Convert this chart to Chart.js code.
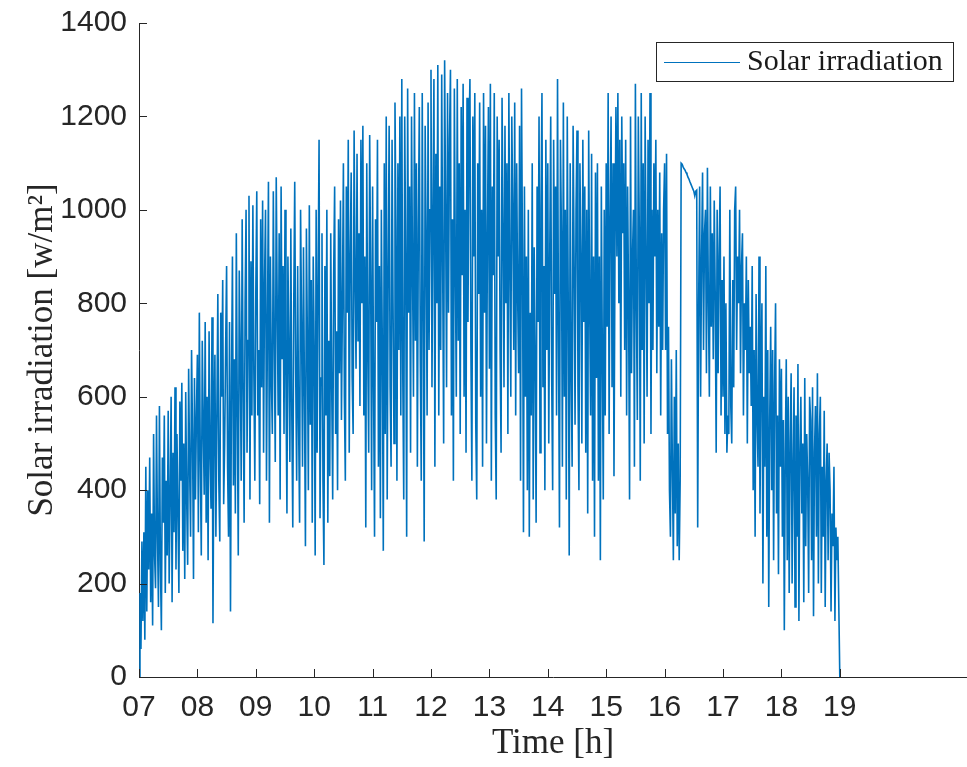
<!DOCTYPE html>
<html>
<head>
<meta charset="utf-8">
<title>Solar irradiation</title>
<script src="https://cdn.jsdelivr.net/npm/chart.js@4/dist/chart.umd.min.js"></script>
<style>
  html, body { margin: 0; padding: 0; background: #ffffff; }
  #wrap { width: 967px; height: 767px; }
</style>
</head>
<body>
<div id="wrap"><canvas id="irrChart" width="967" height="767"></canvas></div>
<script>
// Solar irradiation [w/m2], one value per minute
const irr07 = [
  0, 180, 60, 290, 120, 310, 80, 450, 140, 400,
  230, 470, 160, 350, 110, 520, 260, 190, 560, 300,
  150, 580, 240, 100, 470, 330, 560, 180, 420, 260,
  570, 200, 390, 600, 160, 480, 310, 620, 230, 520,
  350, 180, 590, 420, 630, 270, 500, 210, 610, 380,
  240, 660, 450, 300, 700, 520, 210, 640, 380, 560
];
const irr08 = [
  690, 310, 780, 460, 260, 720, 540, 390, 760, 330,
  600, 250, 740, 480, 360, 770, 115, 520, 690, 300,
  560, 820, 420, 290, 780, 600, 850, 370, 500, 700,
  880, 450, 300, 760, 140, 620, 900, 410, 680, 350,
  950, 560, 260, 870, 700, 420, 980, 620, 330, 800,
  1000, 480, 720, 1030, 380, 890, 560, 1010, 650, 420
];
const irr09 = [
  820, 1040, 560, 700, 370, 980, 620, 1020, 480, 850,
  1000, 420, 760, 1060, 330, 900, 640, 520, 1040, 720,
  460, 1070, 800, 560, 950, 380, 1050, 680, 880, 520,
  1000, 620, 350, 900, 700, 460, 960, 560, 320, 800,
  1060, 650, 420, 880, 540, 330, 1000, 760, 450, 920,
  600, 280, 960, 720, 400, 1010, 540, 850, 330, 900
];
const irr10 = [
  700, 260, 1000, 480, 850, 1150, 340, 640, 950, 420,
  240, 880, 560, 1000, 330, 720, 430, 950, 620, 380,
  860, 1050, 520, 740, 400, 980, 650, 1020, 550, 800,
  1100, 600, 420, 1050, 780, 1150, 480, 900, 1080, 640,
  520, 1170, 850, 660, 1120, 720, 950, 580, 1150, 800,
  1180, 560, 900, 320, 1100, 700, 480, 1160, 860, 400
];
const irr11 = [
  1050, 620, 300, 980, 760, 1150, 450, 880, 340, 1000,
  700, 270, 1100, 520, 1200, 380, 860, 1180, 620, 450,
  1150, 800, 500, 1230, 960, 420, 1100, 700, 1200, 560,
  1280, 650, 380, 1200, 900, 300, 1260, 780, 1050, 480,
  1200, 880, 600, 1250, 720, 1100, 450, 960, 1220, 680,
  420, 1250, 800, 290, 1180, 940, 560, 1230, 700, 1000
];
const irr12 = [
  1300, 620, 980, 1280, 450, 1120, 800, 1310, 560, 1050,
  700, 1290, 880, 500, 1320, 1000, 620, 1250, 780, 1150,
  1300, 560, 980, 420, 1260, 880, 600, 1280, 720, 1100,
  520, 1220, 860, 1270, 600, 1000, 480, 1240, 760, 1150,
  1280, 700, 420, 1200, 900, 1250, 540, 380, 1100, 820,
  1230, 600, 1000, 450, 1250, 780, 1180, 500, 950, 1220
];
const irr13 = [
  660, 1270, 420, 1050, 860, 1250, 560, 380, 1200, 900,
  1150, 700, 480, 1240, 960, 620, 1180, 800, 1100, 520,
  1250, 880, 600, 1200, 1000, 700, 1230, 560, 1100, 820,
  650, 1180, 420, 1260, 900, 310, 1050, 600, 900, 400,
  1000, 300, 780, 560, 1100, 380, 920, 680, 330, 1050,
  760, 1200, 480, 1000, 1250, 620, 880, 400, 1150, 700
];
const irr14 = [
  1100, 500, 900, 1200, 640, 400, 1150, 820, 1050, 560,
  1280, 720, 320, 1150, 950, 450, 1230, 600, 1000, 380,
  1200, 800, 260, 1100, 650, 450, 1180, 900, 540, 1000,
  1170, 620, 400, 1100, 900, 500, 1150, 760, 1050, 480,
  1000, 350, 1170, 800, 560, 1120, 420, 900, 300, 1080,
  640, 1100, 420, 900, 250, 1050, 700, 380, 1000, 560
];
const irr15 = [
  1100, 750, 1250, 520, 980, 1200, 620, 1100, 430, 900,
  1220, 900, 1250, 800, 1150, 600, 1200, 950, 1100, 700,
  1150, 560, 1050, 800, 380, 1200, 650, 900, 1000, 450,
  1270, 800, 550, 1200, 960, 420, 1250, 700, 1100, 500,
  1200, 900, 600, 1150, 800, 1250, 520, 1000, 700, 1100,
  900, 1150, 650, 1000, 750, 1080, 560, 950, 700, 1000
];
const irr16 = [
  1100, 700, 1120, 520, 750, 400, 300, 680, 450, 250,
  600, 350, 700, 280, 500, 250, 420, 1100, 1098, 1092,
  1088, 1085, 1080, 1076, 1070, 1066, 1060, 1055, 1050, 1045,
  1040, 1030, 1040, 1042, 320, 800, 1050, 600, 900, 1080,
  700, 950, 1000, 650, 1090, 800, 600, 1050, 750, 950,
  680, 1020, 820, 480, 1000, 650, 900, 1050, 560, 850
];
const irr17 = [
  600, 900, 520, 800, 480, 560, 520, 1000, 580, 500,
  850, 620, 1000, 1050, 700, 900, 800, 1000, 650, 880,
  950, 560, 800, 700, 900, 500, 850, 650, 750, 580,
  880, 400, 700, 300, 820, 550, 450, 900, 350, 650,
  800, 200, 600, 450, 880, 300, 700, 150, 550, 750,
  400, 700, 250, 620, 800, 350, 560, 220, 680, 450
];
const irr18 = [
  660, 300, 550, 100, 480, 680, 250, 600, 180, 500,
  650, 200, 450, 620, 150, 560, 300, 670, 120, 480,
  600, 350, 500, 160, 640, 280, 520, 420, 180, 600,
  550, 250, 620, 130, 480, 580, 300, 650, 200, 520,
  600, 180, 450, 300, 570, 150, 420, 500, 250, 480,
  400, 140, 350, 280, 450, 120, 320, 250, 300, 150
];
const irr19 = [0];

const hourTicks = [7, 8, 9, 10, 11, 12, 13, 14, 15, 16, 17, 18, 19];
const yTicks = [0, 200, 400, 600, 800, 1000, 1200, 1400];
const seriesLabel = "Solar irradiation";

// Build points: minute i after 07:00
const irradiation = [].concat(irr07, irr08, irr09, irr10, irr11, irr12,
  irr13, irr14, irr15, irr16, irr17, irr18, irr19);
const points = irradiation.map((v, i) => ({ x: 7 + i / 60, y: v }));

const axisColor = "#262626";
const lineBlue = "#0072BD";

// Inward tick marks + boxed legend (MATLAB look)
const matlabLook = {
  id: "matlabLook",
  afterDatasetsDraw(chart) {
    const { ctx, chartArea } = chart;
    const xs = chart.scales.x;
    const ys = chart.scales.y;
    ctx.save();
    ctx.strokeStyle = axisColor;
    ctx.lineWidth = 1;
    ctx.beginPath();
    ys.ticks.forEach(t => {
      const py = Math.round(ys.getPixelForValue(t.value)) + 0.5;
      ctx.moveTo(chartArea.left, py);
      ctx.lineTo(chartArea.left + 8, py);
    });
    xs.ticks.forEach(t => {
      const px = Math.round(xs.getPixelForValue(t.value)) + 0.5;
      ctx.moveTo(px, chartArea.bottom);
      ctx.lineTo(px, chartArea.bottom - 8);
    });
    ctx.stroke();

    // legend box
    const ds = chart.data.datasets[0];
    ctx.fillStyle = "#ffffff";
    ctx.fillRect(656.5, 42.5, 297, 39);
    ctx.strokeStyle = axisColor;
    ctx.strokeRect(656.5, 42.5, 297, 39);
    ctx.strokeStyle = ds.borderColor;
    ctx.lineWidth = 1.2;
    ctx.beginPath();
    ctx.moveTo(664, 62.5);
    ctx.lineTo(740, 62.5);
    ctx.stroke();
    ctx.fillStyle = "#1a1a1a";
    ctx.font = '30px "Liberation Serif", serif';
    ctx.textBaseline = "middle";
    ctx.textAlign = "left";
    ctx.fillText(ds.label, 747, 62);
    ctx.restore();
  }
};

const irrChart = new Chart(document.getElementById("irrChart"), {
  type: "line",
  data: {
    datasets: [
      {
        label: seriesLabel,
        data: points,
        borderColor: lineBlue,
        borderWidth: 1.6,
        pointRadius: 0,
        tension: 0,
        fill: false
      }
    ]
  },
  options: {
    responsive: false,
    animation: false,
    devicePixelRatio: 1,
    layout: { padding: { top: 23, right: 0, bottom: 0, left: 0 } },
    plugins: {
      legend: { display: false },
      tooltip: { enabled: false }
    },
    scales: {
      x: {
        type: "linear",
        min: 7,
        max: 7 + 828 / 58.4,
        afterBuildTicks: s => { s.ticks = hourTicks.map(v => ({ value: v })); },
        afterFit: s => { s.height = 90; s.paddingLeft = 0; s.paddingRight = 0; },
        grid: { display: false, drawTicks: false },
        border: { display: true, color: axisColor, width: 1 },
        ticks: {
          padding: 13,
          color: axisColor,
          autoSkip: false,
          maxRotation: 0,
          font: { family: '"Liberation Sans", Arial, sans-serif', size: 30 },
          callback: v => String(v).padStart(2, "0")
        },
        title: {
          display: true,
          text: "Time [h]",
          color: axisColor,
          font: { family: '"Liberation Serif", serif', size: 35 },
          padding: { top: 0, bottom: 2 }
        }
      },
      y: {
        min: 0,
        max: 1400,
        afterBuildTicks: s => { s.ticks = yTicks.map(v => ({ value: v })); },
        afterFit: s => { s.width = 139; s.paddingTop = 0; s.paddingBottom = 0; },
        grid: { display: false, drawTicks: false },
        border: { display: true, color: axisColor, width: 1 },
        ticks: {
          padding: 12,
          color: axisColor,
          font: { family: '"Liberation Sans", Arial, sans-serif', size: 30 },
          callback: v => String(v)
        },
        title: {
          display: true,
          text: "Solar irradiation [w/m²]",
          color: axisColor,
          font: { family: '"Liberation Serif", serif', size: 35 },
          padding: { top: 22, bottom: 0 }
        }
      }
    }
  },
  plugins: [matlabLook]
});
</script>
</body>
</html>
